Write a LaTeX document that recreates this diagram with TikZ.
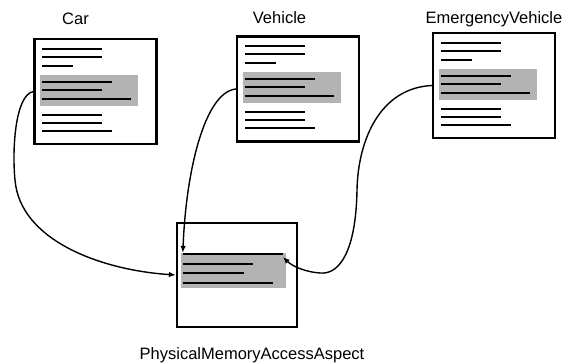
\documentclass[tikz,border=0pt]{standalone}
\usepackage{fontspec}
\setmainfont{Liberation Sans}
\usetikzlibrary{arrows.meta}
\definecolor{slotgray}{RGB}{179,179,179}

% text lines and highlighted member block inside a class box
\newcommand\classlines{%
  \fill[slotgray] (7,37) rectangle (105,68);
  \foreach \yy/\ll in {11/60,19/60,28/31,44/70,52/60,61/89,77/60,85/60,93/70}
    \draw[textline] (9,\yy) -- ++(\ll,0);
}

\begin{document}
\begin{tikzpicture}[x=1pt,y=-1pt,
  classbox/.style={draw, line width=2.3pt, minimum width=122pt, minimum height=105pt, inner sep=0pt},
  textline/.style={line width=2.2pt},
  link/.style={line width=1.4pt, -{Latex[length=7pt,width=5.5pt]}},
  lbl/.style={font=\fontsize{16.5}{20}\selectfont, inner sep=0pt, anchor=base}]
\useasboundingbox (0,0) rectangle (565,362);

% class boxes
\node[classbox] (car) at (95.5,91.5) {};
\node[classbox] (vehicle) at (298,89) {};
\node[classbox] (ev) at (494,85.5) {};
\node[classbox, minimum width=120pt, minimum height=104pt] (aspect) at (237,275) {};

\begin{scope}[shift={(car.north west)}] \classlines \end{scope}
\begin{scope}[shift={(vehicle.north west)}] \classlines \end{scope}
\begin{scope}[shift={(ev.north west)}] \classlines \end{scope}

% aspect body
\node[fill=slotgray, inner sep=0pt, outer sep=0pt, minimum width=105pt, minimum height=35pt, anchor=north west]
  (slot) at ([shift={(5,31)}]aspect.north west) {};
\begin{scope}[shift={(aspect.north west)}]
  \foreach \yy/\ll in {32/100,42/70,51/61,61/90}
    \draw[textline] (7,\yy) -- ++(\ll,0);
\end{scope}

% labels
\node[lbl] (carlabel) at (75.5,24) {Car};
\node[lbl] (vehiclelabel) at (279.5,23) {Vehicle};
\node[lbl] (evlabel) at (494,23) {EmergencyVehicle};
\node[lbl] (aspectlabel) at (252,359) {PhysicalMemoryAccessAspect};

% weaving links
\draw[link] (car.west) .. controls (15,95) and (12,150) .. (15,180)
  .. controls (20,240) and (100,270) .. (aspect.west);
\draw[link] (vehicle.west) .. controls (205,92) and (186,170) .. ([xshift=2pt]slot.north west);
\draw[link] (ev.west) .. controls (380,88) and (358,140) .. (357,190)
  .. controls (356,250) and (340,275) .. (320,273)
  .. controls (305,272) and (292,266) .. ([shift={(-3,4)}]slot.north east);
\end{tikzpicture}
\end{document}
